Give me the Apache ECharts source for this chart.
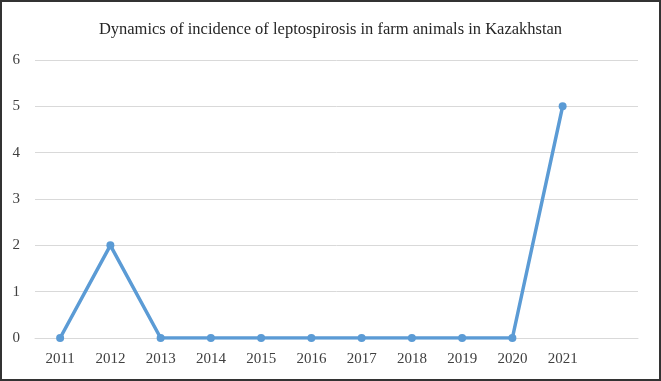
<!DOCTYPE html>
<html><head><meta charset="utf-8">
<script src="https://cdn.jsdelivr.net/npm/echarts@6/dist/echarts.min.js"></script>
<style>html,body{margin:0;padding:0;background:#fff}#c{width:661px;height:381px}</style>
</head><body><div id="c"></div>
<script>
const categories = ['2011','2012','2013','2014','2015','2016','2017','2018','2019','2020','2021',''];
const incidence = [0,2,0,0,0,0,0,0,0,0,5];
const yTicks = [0,1,2,3,4,5,6];

const chart = echarts.init(document.getElementById('c'));
chart.setOption({
  animation:false,
  backgroundColor:'#fff',
  title:{text:'Dynamics of incidence of leptospirosis in farm animals in Kazakhstan',left:'center',top:16,
    textStyle:{fontFamily:'Liberation Serif',fontSize:16.5,fontWeight:'normal',color:'#262626'}},
  graphic:[{type:'rect',shape:{x:1,y:1,width:659,height:379},style:{fill:'none',stroke:'#333',lineWidth:2},silent:true}],
  grid:{left:35,right:23,top:60,bottom:43},
  xAxis:{type:'category',data:categories,boundaryGap:true,
    axisLine:{show:true,lineStyle:{color:'#d9d9d9'}},axisTick:{show:false},
    axisLabel:{fontFamily:'Liberation Serif',fontSize:15,color:'#404040',margin:14,interval:0}},
  yAxis:{type:'value',min:yTicks[0],max:yTicks[yTicks.length-1],interval:1,
    axisLine:{show:false},axisTick:{show:false},
    splitLine:{lineStyle:{color:'#d9d9d9'}},
    axisLabel:{fontFamily:'Liberation Serif',fontSize:15,color:'#404040',margin:15}},
  series:[{type:'line',data:incidence,symbol:'circle',symbolSize:8,
    lineStyle:{color:'#5b9bd5',width:3.5},itemStyle:{color:'#5b9bd5'}}]
});
</script></body></html>
